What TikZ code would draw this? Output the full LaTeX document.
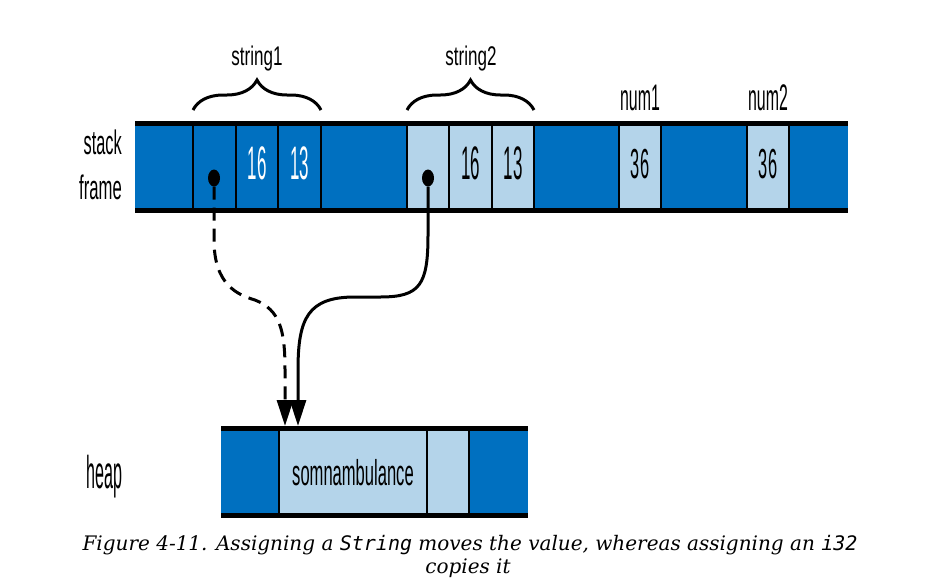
\documentclass[tikz,border=0pt]{standalone}
\usepackage{fontspec}
\usepackage{graphicx}
\usetikzlibrary{decorations.pathreplacing,arrows.meta,shapes.geometric}
\newfontfamily\cond{Liberation Sans}
\newfontfamily\capserif{DejaVu Serif}
\newfontfamily\capmono{DejaVu Sans Mono}
\newcommand\ctxt[3]{\scalebox{#2}[1]{\fontsize{#1}{#1}\selectfont\cond #3}}
\definecolor{dk}{RGB}{0,112,192}
\definecolor{lt}{RGB}{180,212,234}
\begin{document}
\begin{tikzpicture}[x=1pt,y=-1pt,
  lbl/.style={inner sep=0pt,anchor=base},
  bandline/.style={line width=5pt},
  divline/.style={line width=2.6pt},
  dotn/.style={ellipse,fill=black,inner sep=0pt,minimum width=12pt,minimum height=17pt},
  bracestyle/.style={decorate,decoration={brace,amplitude=30pt},line width=3pt},
  conn/.style={line width=3pt,-{Triangle[width=16pt,length=26pt]}}
]
\useasboundingbox (0,0) rectangle (944,582);
% stack frame band
\fill[dk] (135,123) rectangle (848,210);
\fill[lt] (407,123) rectangle (534,210);
\fill[lt] (619,123) rectangle (661,210);
\fill[lt] (747,123) rectangle (789,210);
\foreach \xx in {193,236,278,321,407,449,492,534,619,661,747,789}
  \draw[divline] (\xx,123) -- (\xx,210);
\draw[bandline] (135,123) -- (848,123);
\draw[bandline] (135,210) -- (848,210);
% values
\node[lbl,text=white] (s1len) at (257,179) {\ctxt{47}{0.36}{16}};
\node[lbl,text=white] (s1cap) at (299.5,179) {\ctxt{47}{0.36}{13}};
\node[lbl] (s2len) at (470.5,179) {\ctxt{47}{0.36}{16}};
\node[lbl] (s2cap) at (513,179) {\ctxt{47}{0.36}{13}};
\node[lbl] (n1v) at (640,178) {\ctxt{42}{0.39}{36}};
\node[lbl] (n2v) at (768,178) {\ctxt{42}{0.39}{36}};
% pointers
\node[dotn] (p1) at (214,178) {};
\node[dotn] (p2) at (428,178) {};
% labels
\node[lbl,anchor=base east] (stk) at (122,154) {\ctxt{34}{0.48}{stack}};
\node[lbl,anchor=base east] (frm) at (122,199) {\ctxt{34}{0.49}{frame}};
\node[lbl,anchor=base west] (hp) at (86,488) {\ctxt{46}{0.35}{heap}};
\node[lbl] (str1) at (257,65) {\ctxt{27}{0.63}{string1}};
\node[lbl] (str2) at (471,65) {\ctxt{27}{0.63}{string2}};
\node[lbl] (num1) at (640,110) {\ctxt{37}{0.43}{num1}};
\node[lbl] (num2) at (768,110) {\ctxt{37}{0.43}{num2}};
% braces
\draw[bracestyle] (193,110) -- (321,110);
\draw[bracestyle] (407,110) -- (534,110);
% heap
\fill[dk] (221,428) rectangle (528,515);
\fill[lt] (279,428) rectangle (469,515);
\foreach \xx in {279,427,469}
  \draw[divline] (\xx,428) -- (\xx,515);
\draw[bandline] (221,428) -- (528,428);
\draw[bandline] (221,515) -- (528,515);
\node[lbl] (somn) at (353,485) {\ctxt{36}{0.46}{somnambulance}};
\coordinate (h1) at (285,426);
\coordinate (h2) at (298,426);
% connectors
\draw[conn,dash pattern=on 13pt off 8pt] (p1.south) -- (214,240)
  .. controls (214,285) and (238,295) .. (255,300)
  .. controls (280,310) and (285,330) .. (285,370) -- (h1);
\draw[conn] (p2.south) -- (428,235)
  .. controls (428,285) and (420,297) .. (380,297) -- (355,297)
  .. controls (308,297) and (298,318) .. (298,370) -- (h2);
% caption
\node[lbl] (cap1) at (470,550) {\fontsize{20}{20}\selectfont\capserif\itshape Figure 4-11. Assigning a {\capmono\itshape String} moves the value, whereas assigning an {\capmono\itshape i32}};
\node[lbl] (cap2) at (468,573) {\fontsize{20}{20}\selectfont\capserif\itshape copies it};
\end{tikzpicture}
\end{document}
